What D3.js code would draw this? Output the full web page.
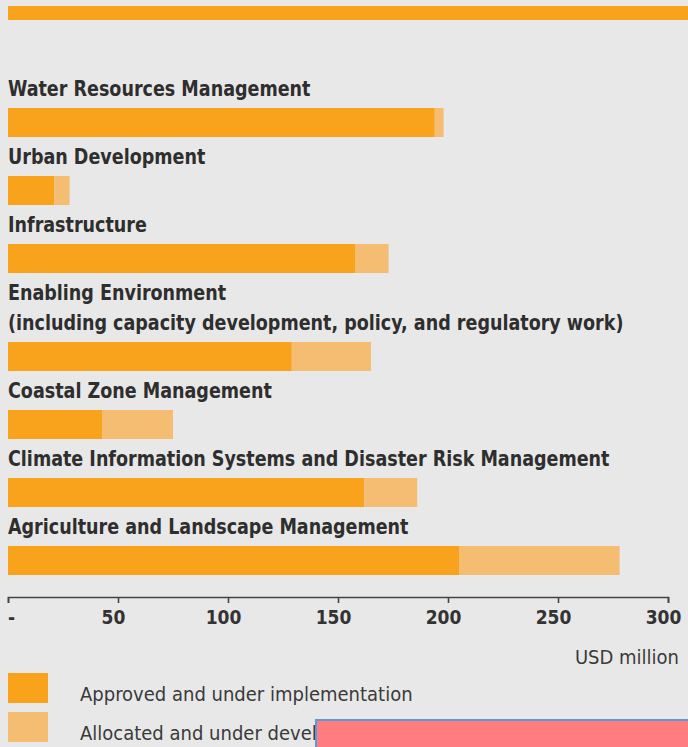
<!DOCTYPE html>
<html>
<head>
<meta charset="utf-8">
<script src="https://cdn.jsdelivr.net/npm/d3@7"></script>
<style>
  html, body { margin: 0; padding: 0; background: #e8e8e8; }
  svg { display: block; }
  .label { font-family: "DejaVu Sans Condensed", "DejaVu Sans", sans-serif; font-stretch: condensed; font-weight: bold; font-size: 21px; fill: #2e2e2e; }
  .tick text { font-family: "DejaVu Sans Condensed", "DejaVu Sans", sans-serif; font-stretch: condensed; font-weight: bold; font-size: 19px; fill: #333; }
  .unit, .legend-text { font-family: "DejaVu Sans Condensed", "DejaVu Sans", sans-serif; font-stretch: condensed; font-size: 20px; fill: #3a3a3a; }
</style>
</head>
<body>
<svg id="chart"></svg>
<script>
// categories (first row is the tail of a bar cut off above the picture)
const categories = [
  [],
  ["Water Resources Management"],
  ["Urban Development"],
  ["Infrastructure"],
  ["Enabling Environment", "(including capacity development, policy, and regulatory work)"],
  ["Coastal Zone Management"],
  ["Climate Information Systems and Disaster Risk Management"],
  ["Agriculture and Landscape Management"]
];
// USD million
const approved = [320, 194, 21, 158, 129, 43, 162, 205];
const allocated = [0, 4, 7, 15, 36, 32, 24, 73];

const ticks = [0, 50, 100, 150, 200, 250, 300];
const seriesNames = ["Approved and under implementation", "Allocated and under development"];
const colors = ["#f8a31b", "#f4bd72"];

const width = 688, height = 747;
const svg = d3.select('#chart').attr('width', width).attr('height', height);

// x scale
const x = d3.scaleLinear().domain([0, 300]).range([8, 668]);

// vertical layout: label lines then the bar
const lineH = 30, barH = 29;
let yPos = 0;
const rows = categories.map((lines, i) => {
  let row;
  if (i === 0) {
    row = { lines, labelY: 0, barY: 6, barH: 14 };
    yPos = 80;
  } else {
    const labelY = yPos + 16;
    const barY = labelY + (lines.length - 1) * lineH + 12;
    row = { lines, labelY, barY, barH };
    yPos = barY + barH + 11;
  }
  row.approved = approved[i];
  row.allocated = allocated[i];
  return row;
});

const g = svg.append('g');

// labels
rows.forEach(r => {
  r.lines.forEach((t, j) => {
    g.append('text')
      .attr('class', 'label')
      .attr('transform', `translate(8,${r.labelY + j * lineH})`)
      .text(t);
  });
});

// squeeze labels horizontally so the longest heading spans like the original (~602px)
const longest = g.selectAll('.label').filter(function() {
  return this.textContent.startsWith('Climate');
}).node();
const squeeze = 602 / longest.getComputedTextLength();
g.selectAll('.label').attr('transform', function() {
  return this.getAttribute('transform') + ` scale(${squeeze},1)`;
});

// approved bars
g.selectAll('.bar-approved')
  .data(rows)
  .enter().append('rect')
  .attr('class', 'bar-approved')
  .attr('x', x(0))
  .attr('y', d => d.barY)
  .attr('width', d => x(d.approved) - x(0))
  .attr('height', d => d.barH)
  .attr('fill', colors[0]);

// allocated bars stacked
g.selectAll('.bar-allocated')
  .data(rows)
  .enter().append('rect')
  .attr('class', 'bar-allocated')
  .attr('x', d => x(d.approved))
  .attr('y', d => d.barY)
  .attr('width', d => x(d.approved + d.allocated) - x(d.approved))
  .attr('height', d => d.barH)
  .attr('fill', colors[1]);

// axis
const axisY = 597;
const axis = svg.append('g')
  .attr('transform', `translate(0,${axisY})`)
  .call(d3.axisBottom(x).tickValues(ticks).tickSize(6).tickPadding(8)
    .tickFormat(d => d === 0 ? '-' : d));
axis.select('.domain').attr('stroke', '#444').attr('stroke-width', 1.6);
axis.selectAll('.tick line').attr('stroke', '#444').attr('stroke-width', 1.6);
axis.selectAll('.tick text').attr('dx', d => d === 0 ? 3 : -5);

svg.append('text')
  .attr('class', 'unit')
  .attr('x', 679)
  .attr('y', 664)
  .attr('text-anchor', 'end')
  .text('USD million');

// legend
const legend = svg.append('g');
seriesNames.forEach((name, i) => {
  const ly = 673 + i * 39;
  legend.append('rect')
    .attr('x', 8).attr('y', ly)
    .attr('width', 40).attr('height', 30)
    .attr('fill', colors[i]);
  legend.append('text')
    .attr('class', 'legend-text')
    .attr('x', 80)
    .attr('y', ly + 28)
    .text(name);
});

// redaction box over the lower right corner
svg.append('rect')
  .attr('x', 316).attr('y', 720)
  .attr('width', 380).attr('height', 40)
  .attr('fill', '#ff7c80')
  .attr('stroke', '#5b9bd5')
  .attr('stroke-width', 2);
</script>
</body>
</html>
